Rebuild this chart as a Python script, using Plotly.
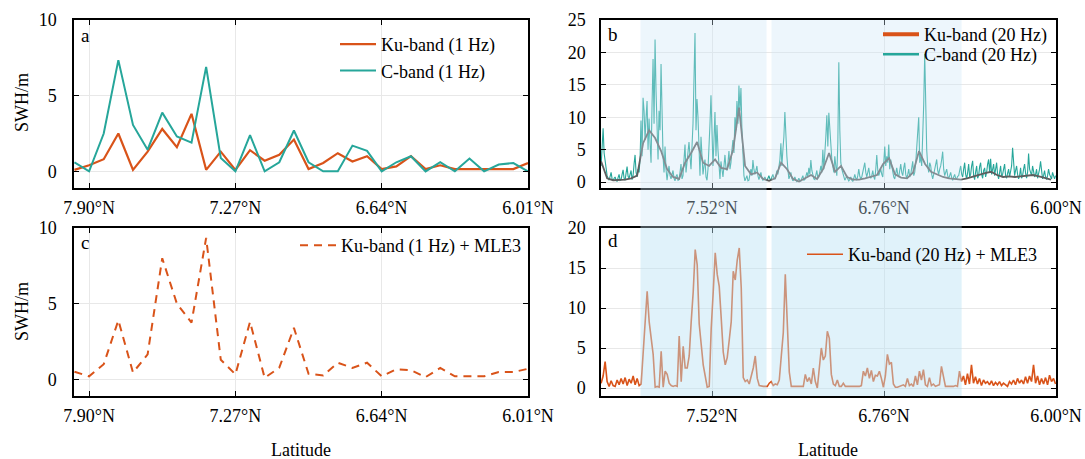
import numpy as np
import plotly.graph_objects as go

W, H = 1085, 459

# ---------------- data ----------------
lat_1hz = [7.963, 7.900, 7.837, 7.774, 7.711, 7.648, 7.585, 7.522, 7.459, 7.396,
           7.333, 7.270, 7.207, 7.144, 7.081, 7.018, 6.955, 6.892, 6.829, 6.766,
           6.703, 6.640, 6.577, 6.514, 6.451, 6.388, 6.325, 6.262, 6.199, 6.136,
           6.073, 6.010]
ku_1hz = [0.1, 0.4, 0.8, 2.5, 0.1, 1.3, 2.8, 1.6, 3.8, 0.1,
          1.3, 0.1, 1.4, 0.7, 1.1, 2.1, 0.15, 0.55, 1.2, 0.65,
          1.0, 0.15, 0.33, 1.0, 0.15, 0.4, 0.15, 0.15, 0.15, 0.15,
          0.15, 0.55]
c_1hz = [0.6, 0.0, 2.5, 7.35, 3.07, 1.43, 3.88, 2.3, 1.9, 6.9,
         0.88, 0.0, 2.4, 0.0, 0.6, 2.7, 0.6, 0.0, 0.0, 1.7,
         1.35, 0.0, 0.6, 1.0, 0.0, 0.6, 0.0, 0.85, 0.0, 0.45,
         0.55, 0.0]
ku_1hz_mle3 = [0.5, 0.2, 1.0, 3.9, 0.45, 1.65, 8.0, 5.0, 3.75, 9.35,
               1.3, 0.33, 3.8, 0.1, 0.77, 3.4, 0.37, 0.26, 1.1, 0.75,
               1.1, 0.2, 0.66, 0.6, 0.15, 0.75, 0.2, 0.2, 0.2, 0.48,
               0.48, 0.7]

# 20 Hz along-track samples (evenly spaced along track between these latitudes)
LAT20_START, LAT20_END = 8.010, 6.002
c_20hz = [
    2.5, 6.0, 8.3, 4.5, 3.0, 1.8, 1.0, 0.6, 0.3, 0.9, 1.5, 0.5, 0.2, 0.6, 0.8, 0.3, 0.1, 0.7, 1.2, 0.3,
    0.4, 1.2, 1.9, 0.6, 0.3, 1.4, 2.4, 0.9, 0.6, 1.2, 1.8, 0.4, 1.0, 2.8, 4.2, 1.5, 0.8, 2.0, 1.5, 3.5,
    9.5, 4.0, 13.0, 11.0, 6.5, 10.0, 12.5, 5.0, 9.8, 6.0, 3.0, 12.0, 19.0, 9.0, 22.0, 14.0, 7.0, 3.5, 11.0, 8.0,
    18.2, 9.0, 4.0, 1.5, 5.5, 2.0, 0.3, 1.5, 2.5, 1.0, 0.5, 1.2, 1.8, 0.6, 0.2, 0.9, 1.2, 0.3, 0.4, 1.5,
    2.8, 0.5, 1.0, 3.5, 5.8, 1.5, 3.0, 4.5, 6.2, 4.0, 2.0, 5.5, 9.0, 16.0, 23.0, 8.0, 12.8, 10.0, 4.5, 1.0,
    7.0, 3.0, 1.2, 2.5, 3.5, 0.8, 0.3, 2.0, 4.8, 9.0, 13.4, 5.0, 2.5, 6.5, 10.8, 4.0, 8.8, 5.0, 1.5, 0.5,
    3.2, 1.5, 0.8, 2.5, 4.2, 2.2, 1.8, 3.0, 4.8, 2.0, 3.0, 5.0, 6.5, 4.5, 10.0, 8.0, 12.5, 9.0, 14.9, 11.0,
    14.5, 8.0, 3.5, 1.0, 0.2, 0.5, 1.0, 0.2, 0.3, 1.2, 2.0, 1.0, 3.4, 2.0, 1.2, 1.8, 2.5, 1.0, 0.4, 0.9,
    1.5, 0.6, 0.3, 0.5, 0.8, 0.4, 0.2, 0.6, 1.0, 0.5, 0.3, 0.8, 1.2, 0.6, 0.5, 1.0, 1.8, 1.2, 2.5, 3.5,
    6.0, 2.5, 5.0, 7.0, 10.8, 6.5, 4.0, 2.0, 0.5, 0.9, 1.5, 0.6, 0.2, 0.4, 0.8, 0.3, 0.1, 0.3, 0.6, 0.2,
    0.2, 0.6, 1.0, 0.3, 0.4, 0.9, 1.5, 0.8, 2.2, 1.2, 3.4, 1.8, 1.0, 0.5, 0.4, 1.2, 1.8, 0.6, 0.8, 1.6,
    2.5, 1.5, 5.0, 2.0, 4.0, 7.0, 10.3, 5.5, 10.7, 8.0,
    6.0, 3.5, 2.5, 1.5, 4.0, 2.5, 1.0, 6.0, 18.5, 8.0, 3.0, 2.0, 1.5, 0.8, 0.3, 0.6, 1.0, 0.5, 0.2, 0.4,
    0.8, 0.3, 0.1, 0.6, 1.2, 0.6, 0.3, 1.0, 2.0, 0.9, 0.5, 0.8, 1.5, 2.2, 3.0, 1.5, 0.8, 1.5, 2.2, 1.0,
    0.6, 1.0, 1.8, 0.8, 0.4, 2.0, 4.2, 1.8, 1.0, 1.5, 2.0, 1.2, 0.8, 3.0, 5.5, 2.5, 4.0, 3.0, 5.8, 2.0,
    3.5, 2.5, 1.5, 0.8, 0.5, 1.5, 2.2, 1.2, 0.8, 1.8, 2.8, 1.5, 1.0, 2.2, 3.0, 1.2, 0.6, 1.2, 2.0, 0.8,
    1.2, 2.2, 3.2, 1.0, 1.5, 3.0, 5.0, 7.0, 10.0, 3.0, 4.0, 2.5, 6.0, 12.0, 19.8, 9.0, 5.0, 2.5, 1.5, 3.0,
    2.5, 1.2, 0.5, 1.2, 2.0, 2.8, 3.5, 1.8, 1.2, 2.0, 2.5, 3.5, 4.7, 2.0, 1.0, 1.5, 2.0, 1.0, 0.5, 1.0,
    1.5, 0.7, 0.3, 0.8, 1.2, 0.6, 0.5, 0.9, 1.0, 1.8, 2.5, 1.2, 0.8, 2.0, 3.0, 1.2, 0.5, 1.5, 2.8, 0.8,
    1.2, 2.5, 3.3, 1.0, 0.4, 1.6, 2.5, 0.6, 1.0, 2.4, 3.0, 1.2, 0.6, 1.8, 2.2, 0.8, 1.5, 2.8, 3.5, 1.5,
    3.6, 1.2, 2.0, 2.8, 1.0, 1.8, 3.0, 1.2, 0.5, 1.5, 2.5, 0.8, 1.2, 2.0, 2.8, 1.0, 0.6, 1.4, 2.0, 0.8,
    1.5, 2.5, 5.3, 2.0, 1.0, 1.8, 2.5, 1.2, 0.5, 1.0, 2.2, 0.6, 1.0, 2.0, 2.8, 1.4, 0.6, 1.5, 4.4, 2.0,
    1.5, 1.0, 2.5, 1.4, 0.8, 1.2, 2.0, 0.6, 1.2, 2.0, 3.2, 1.2, 0.5, 1.0, 1.8, 0.8, 0.4, 1.0, 2.0, 1.2,
    0.8, 0.5, 1.5, 0.9, 0.5, 1.0]
LAT20K_START, LAT20K_END = 8.010, 6.022
ku_20hz = [
    3.2, 0.6, 0.3, 0.3, 0.4, 0.6, 1.0, 6.0, 8.0, 6.8, 4.8, 2.0, 0.8, 0.5, 3.0, 4.5, 6.2, 3.0, 2.5, 3.5,
    2.2, 2.0, 5.0, 11.5, 2.5, 1.2, 1.5, 0.5, 0.2, 0.6, 3.0, 2.0, 0.5, 0.1, 0.6, 1.1, 0.5, 2.0, 4.5,
    1.6, 2.5, 0.8, 0.4, 0.4, 0.6, 0.9, 1.1, 2.8, 3.7, 1.2, 0.7, 0.6, 1.5, 4.8, 2.8, 1.6, 1.2, 0.8, 0.6,
    0.5, 0.4, 0.6, 0.9, 1.1, 1.4, 1.6, 1.1, 0.8, 0.9, 0.8, 0.9, 1.0, 1.1, 0.9, 0.6, 0.4]
ku_20hz_mle3 = [
    0.6, 1.5, 3.3, 0.8, 0.2, 0.9, 0.3, 0.2, 1.0, 0.4, 1.2, 0.5, 1.3, 0.3, 1.1, 0.6, 1.5, 0.4, 1.2, 0.3,
    0.5, 4.6, 9.2, 12.1, 8.3, 6.2, 4.2, 0.1, 0.2, 0.1, 4.6, 0.1, 2.1, 1.7, 0.6, 0.3, 0.2, 0.3, 0.2, 6.5,
    0.8, 5.2, 2.5, 2.5, 4.0, 8.3, 12.0, 17.3, 15.4, 8.0, 5.0, 2.9, 1.5, 0.1, 0.2, 7.5, 12.0, 16.9, 14.2, 12.7,
    8.7, 4.5, 2.9, 3.8, 6.0, 8.3, 14.6, 13.5, 16.0, 17.5, 12.5, 1.3, 0.8, 1.0, 0.5, 1.5, 2.5, 4.0, 1.2, 0.3,
    0.2, 0.2, 0.2, 0.2, 0.6, 0.8, 0.3, 0.5, 0.4, 1.0, 4.0, 6.9, 14.2, 7.1, 2.0, 0.2, 0.2, 0.2, 0.2, 0.2,
    0.2, 0.2, 1.7, 0.8, 1.3, 0.5, 2.5, 0.8, 0.0, 2.5, 5.0, 3.5, 4.0, 7.1, 6.2,
    1.7, 0.5, 0.3, 1.0, 0.2, 0.2, 0.6, 0.2, 0.2, 0.2, 0.2, 0.2, 0.2, 0.2, 0.2, 0.3, 2.1, 1.5, 2.5, 1.2,
    2.2, 0.8, 1.6, 1.5, 2.1, 1.2, 0.1, 1.5, 4.2, 3.0, 3.2, 0.5, 0.1, 0.1, 0.2, 0.2, 0.4, 0.2, 1.2, 0.3,
    0.5, 0.2, 1.5, 0.4, 2.1, 1.0, 2.3, 0.4, 0.2, 1.3, 0.3, 0.5, 0.2, 0.3, 0.4, 2.7, 1.5, 0.2, 0.2, 0.2,
    0.2, 0.2, 0.3, 0.2, 2.1, 0.8, 1.5, 0.4, 1.8, 0.5, 2.9, 0.6, 1.4, 0.5, 1.2, 0.3, 1.0, 0.6, 0.8, 0.4,
    0.9, 0.3, 0.7, 0.4, 0.8, 0.3, 0.6, 0.4, 0.2, 0.8, 0.5, 1.0, 0.4, 1.2, 0.6, 1.0, 0.5, 1.4, 0.6, 1.5,
    0.8, 2.9, 0.6, 1.5, 0.4, 1.2, 0.5, 1.3, 0.4, 1.6, 0.8, 1.2, 0.5]

ticks_left = [7.90, 7.27, 6.64, 6.01]
ticks_right = [7.52, 6.76, 6.00]
shade_lat = [(7.836, 7.279), (7.257, 6.417)]

lat_c20 = np.linspace(LAT20_START, LAT20_END, len(c_20hz))
lat_k20 = np.linspace(LAT20K_START, LAT20K_END, len(ku_20hz))
lat_m20 = np.linspace(LAT20_START, LAT20_END, len(ku_20hz_mle3))

# ---------------- style ----------------
ORANGE = "#D95319"
TEAL = "#26A69A"
GRAY = "#5E5E5E"
FONT = "Liberation Serif"


def fx(p):
    return p / W


def fy(p):
    return 1 - p / H


fig = go.Figure()

# a
fig.add_trace(go.Scatter(x=lat_1hz, y=ku_1hz, mode="lines", name="Ku-band (1 Hz)",
                         line=dict(color=ORANGE, width=2.2), xaxis="x", yaxis="y", legend="legend"))
fig.add_trace(go.Scatter(x=lat_1hz, y=c_1hz, mode="lines", name="C-band (1 Hz)",
                         line=dict(color=TEAL, width=2), xaxis="x", yaxis="y", legend="legend"))
# b
fig.add_trace(go.Scatter(x=lat_c20, y=c_20hz, mode="lines", name="C-band (20 Hz)", showlegend=False,
                         line=dict(color=TEAL, width=1.1), xaxis="x2", yaxis="y2"))
fig.add_trace(go.Scatter(x=lat_k20, y=ku_20hz, mode="lines", name="Ku-band (20 Hz)", showlegend=False,
                         line=dict(color=GRAY, width=1.8), xaxis="x2", yaxis="y2"))
fig.add_trace(go.Scatter(x=[None], y=[None], mode="lines", name="Ku-band (20 Hz)",
                         line=dict(color=ORANGE, width=4), xaxis="x2", yaxis="y2", legend="legend2"))
fig.add_trace(go.Scatter(x=[None], y=[None], mode="lines", name="C-band (20 Hz)",
                         line=dict(color=TEAL, width=2.5), xaxis="x2", yaxis="y2", legend="legend5"))
# c
fig.add_trace(go.Scatter(x=lat_1hz, y=ku_1hz_mle3, mode="lines", name="Ku-band (1 Hz) + MLE3",
                         line=dict(color=ORANGE, width=2, dash="8px,6px"), xaxis="x3", yaxis="y3",
                         legend="legend3"))
# d
fig.add_trace(go.Scatter(x=lat_m20, y=ku_20hz_mle3, mode="lines", name="Ku-band (20 Hz) + MLE3",
                         line=dict(color=ORANGE, width=1.6), xaxis="x4", yaxis="y4", legend="legend4"))

axis_common = dict(showline=True, linecolor="black", linewidth=1.5, mirror="ticks",
                   ticks="inside", ticklen=5, tickcolor="black", tickwidth=1,
                   showgrid=True, gridcolor="#E8E8E8", gridwidth=1, zeroline=False,
                   tickfont=dict(family=FONT, size=18, color="black"))

# pixel boxes
A = (74, 528, 20, 188)
B = (601, 1056, 20, 188)
C = (74, 528, 228, 396)
D = (601, 1056, 228, 396)


def xdom(b):
    return [fx(b[0]), fx(b[1])]


def ydom(b):
    return [fy(b[3]), fy(b[2])]


fig.update_layout(
    xaxis=dict(domain=xdom(A), anchor="y", range=[7.965, 6.01], tickvals=ticks_left,
               ticktext=[f"{v:.2f}°N" for v in ticks_left], ticklabelstandoff=3, **axis_common),
    yaxis=dict(domain=ydom(A), anchor="x", range=[-1.1, 10], tickvals=[0, 5, 10],
               ticklabelstandoff=12, **axis_common),
    xaxis2=dict(domain=xdom(B), anchor="y2", range=[8.0105, 6.0], tickvals=ticks_right,
                ticktext=[f"{v:.2f}°N" for v in ticks_right], ticklabelstandoff=3, **axis_common),
    yaxis2=dict(domain=ydom(B), anchor="x2", range=[-0.9, 25], tickvals=[0, 5, 10, 15, 20, 25],
                ticklabelstandoff=10, **axis_common),
    xaxis3=dict(domain=xdom(C), anchor="y3", range=[7.965, 6.01], tickvals=ticks_left,
                ticktext=[f"{v:.2f}°N" for v in ticks_left], ticklabelstandoff=3, **axis_common),
    yaxis3=dict(domain=ydom(C), anchor="x3", range=[-1.1, 10], tickvals=[0, 5, 10],
                ticklabelstandoff=12, **axis_common),
    xaxis4=dict(domain=xdom(D), anchor="y4", range=[8.0105, 6.0], tickvals=ticks_right,
                ticktext=[f"{v:.2f}°N" for v in ticks_right], ticklabelstandoff=3, **axis_common),
    yaxis4=dict(domain=ydom(D), anchor="x4", range=[-1.0, 20], tickvals=[0, 5, 10, 15, 20],
                ticklabelstandoff=10, **axis_common),
)

leg_common = dict(bgcolor="rgba(0,0,0,0)", borderwidth=0, xanchor="left", yanchor="top",
                  font=dict(family=FONT, size=18, color="black"), tracegroupgap=0, itemwidth=36)
fig.update_layout(
    legend=dict(x=fx(335), y=fy(26), **leg_common),
    legend2=dict(x=fx(878), y=fy(16), **leg_common),
    legend5=dict(x=fx(878), y=fy(36), **leg_common),
    legend3=dict(x=fx(295), y=fy(227), **leg_common),
    legend4=dict(x=fx(802), y=fy(236), **leg_common),
)

# shaded latitude bands (b column through d)
shapes = []
for (l0, l1) in shade_lat:
    shapes.append(dict(type="rect", xref="x2", x0=l0, x1=l1, yref="paper", y0=fy(228), y1=fy(20),
                       fillcolor="rgb(204,229,246)", opacity=0.35, line=dict(width=0), layer="above"))
    shapes.append(dict(type="rect", xref="x4", x0=l0, x1=l1, yref="paper", y0=fy(396), y1=fy(228),
                       fillcolor="rgb(186,226,244)", opacity=0.45, line=dict(width=0), layer="above"))

annotations = []
for txt, (x, y) in zip(["a", "b", "c", "d"], [(79, 35), (606, 34), (79, 242), (606, 241)]):
    annotations.append(dict(text=txt, x=fx(x), y=fy(y), xref="paper", yref="paper", xanchor="left",
                            yanchor="middle", showarrow=False, font=dict(family=FONT, size=19, color="black")))
for y in (103, 312):
    annotations.append(dict(text="SWH/m", x=fx(22), y=fy(y), xref="paper", yref="paper", textangle=-90,
                            xanchor="center", yanchor="middle", showarrow=False,
                            font=dict(family=FONT, size=18, color="black")))
for x in (301, 828):
    annotations.append(dict(text="Latitude", x=fx(x), y=fy(450), xref="paper", yref="paper",
                            xanchor="center", yanchor="middle", showarrow=False,
                            font=dict(family=FONT, size=18, color="black")))

fig.update_layout(width=W, height=H, margin=dict(l=0, r=0, t=0, b=0, autoexpand=False),
                  paper_bgcolor="white", plot_bgcolor="white",
                  shapes=shapes, annotations=annotations)

fig.write_html("out.html")
